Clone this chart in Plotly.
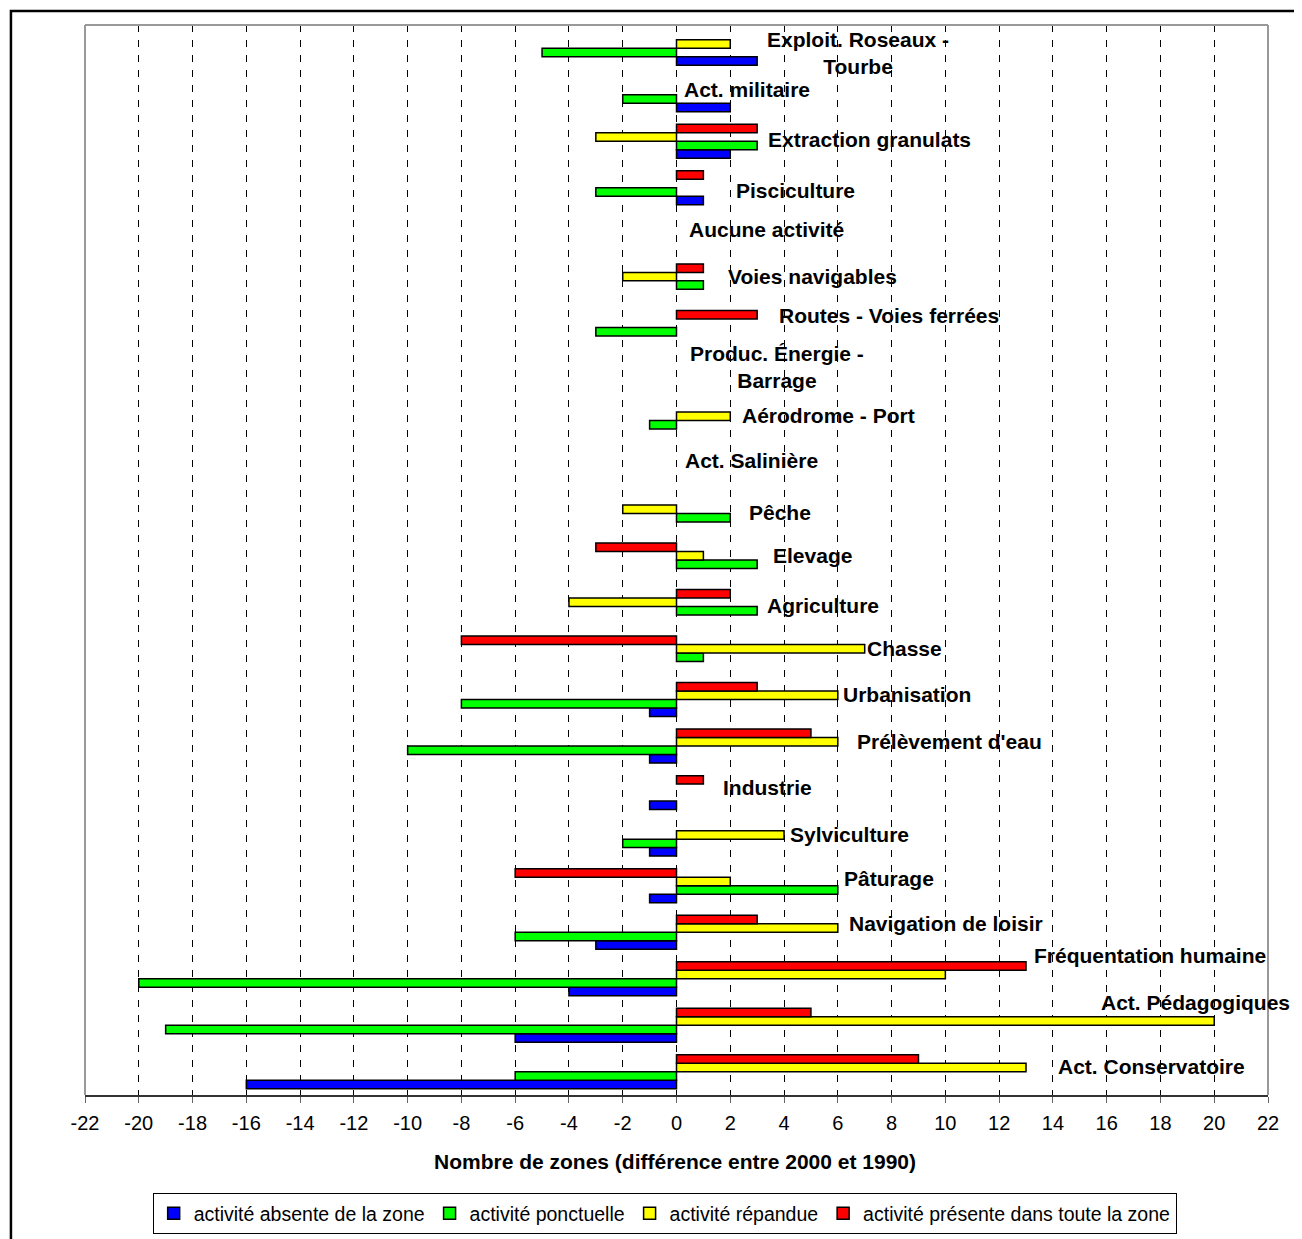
import plotly.graph_objects as go

categories = [
    "Exploit. Roseaux -<br>Tourbe", "Act. militaire", "Extraction granulats", "Pisciculture",
    "Aucune activité", "Voies navigables", "Routes - Voies ferrées",
    "Produc. Énergie -<br>Barrage", "Aérodrome - Port", "Act. Salinière", "Pêche",
    "Elevage", "Agriculture", "Chasse", "Urbanisation", "Prélèvement d'eau",
    "Industrie", "Sylviculture", "Pâturage", "Navigation de loisir",
    "Fréquentation humaine", "Act. Pédagogiques", "Act. Conservatoire",
]

absente = [3, 2, 2, 1, None, None, None, None, None, None, None, None, None, None,
           -1, -1, -1, -1, -1, -3, -4, -6, -16]
ponctuelle = [-5, -2, 3, -3, None, 1, -3, None, -1, None, 2, 3, 3, 1,
              -8, -10, None, -2, 6, -6, -20, -19, -6]
repandue = [2, None, -3, None, None, -2, None, None, 2, None, -2, 1, -4, 7,
            6, 6, None, 4, 2, 6, 10, 20, 13]
presente = [None, None, 3, 1, None, 1, 3, None, None, None, None, -3, 2, -8,
            3, 5, 1, None, -6, 3, 13, 5, 9]

series_names = ["activité absente de la zone", "activité ponctuelle",
                "activité répandue", "activité présente dans toute la zone"]
series_values = [absente, ponctuelle, repandue, presente]
series_colors = ["#0000FF", "#00FF00", "#FFFF00", "#FF0000"]

tick_values = list(range(-22, 23, 2))
tick_labels = [str(v) for v in tick_values]

# label anchor positions (x centre in data units, vertical pixel shift)
label_x = [6.74, 2.64, 7.19, 4.43, 3.35, 5.07, 7.9, 3.72, 5.66, 2.79, 3.84,
           5.07, 5.44, 8.49, 8.57, 10.17, 3.39, 6.44, 7.9, 10.02, 17.6, 19.3, 17.65]
label_dy = [-5, 5, 2, -3, 5, 4, 12, 7, 5, 6, 1, 5, 1, 5, 5, 5, 5, 5, 7, 9, 23, 23, 5]

FONT = "Liberation Sans, Arial, sans-serif"

fig = go.Figure()
for name, vals, col in zip(series_names, series_values, series_colors):
    fig.add_trace(go.Bar(
        y=categories, x=vals, name=name, orientation="h",
        marker=dict(color=col, line=dict(color="black", width=1.5)),
    ))

annotations = []
for cat, lx, dy in zip(categories, label_x, label_dy):
    annotations.append(dict(
        x=lx, y=cat, xref="x", yref="y", text=cat, showarrow=False,
        xanchor="center", yanchor="middle", yshift=dy, align="center",
        font=dict(family=FONT, size=21, color="black", weight="bold"),
    ))
annotations.append(dict(
    x=0.4987, y=-0.0626, xref="paper", yref="paper",
    text="Nombre de zones (différence entre 2000 et 1990)", showarrow=False,
    xanchor="center", yanchor="middle",
    font=dict(family=FONT, size=21, color="black", weight="bold"),
))

shapes = [
    # outer chart border
    dict(type="rect", xref="paper", yref="paper", x0=-0.0626, x1=1.2, y0=-0.3, y1=1.0131,
         line=dict(color="black", width=2.5), fillcolor="rgba(0,0,0,0)", layer="above"),
    # plot area frame (top, left, right)
    dict(type="line", xref="paper", yref="paper", x0=0, x1=1, y0=1, y1=1,
         line=dict(color="#999999", width=2), layer="above"),
    dict(type="line", xref="paper", yref="paper", x0=0, x1=0, y0=0, y1=1,
         line=dict(color="#999999", width=2), layer="above"),
    dict(type="line", xref="paper", yref="paper", x0=1, x1=1, y0=0, y1=1,
         line=dict(color="#999999", width=2), layer="above"),
]

fig.update_layout(
    width=1294, height=1231,
    margin=dict(l=77, r=34, t=17, b=144, autoexpand=False),
    paper_bgcolor="white", plot_bgcolor="white",
    barmode="group", bargap=0.27, bargroupgap=0,
    font=dict(family=FONT, size=20, color="black"),
    showlegend=True,
    legend=dict(orientation="h", x=0.49, y=-0.0916, xanchor="center", yanchor="top",
                bordercolor="black", borderwidth=1, bgcolor="white",
                font=dict(family=FONT, size=19.5, color="black"),
                itemwidth=30, tracegroupgap=0),
    xaxis=dict(range=[-22, 22], tickvals=tick_values, ticktext=tick_labels,
               showgrid=True, gridcolor="black", gridwidth=1, griddash="7px,8px",
               zeroline=False, showline=True, linecolor="#333333", linewidth=1.5,
               ticks="outside", ticklen=6, tickcolor="#666666", ticklabelstandoff=3,
               automargin=False,
               tickfont=dict(family=FONT, size=20, color="black")),
    yaxis=dict(categoryorder="array", categoryarray=categories[::-1],
               showticklabels=False, showgrid=False, zeroline=False, showline=False,
               ticks="", automargin=False),
    annotations=annotations,
    shapes=shapes,
)

fig.write_html("out.html")
